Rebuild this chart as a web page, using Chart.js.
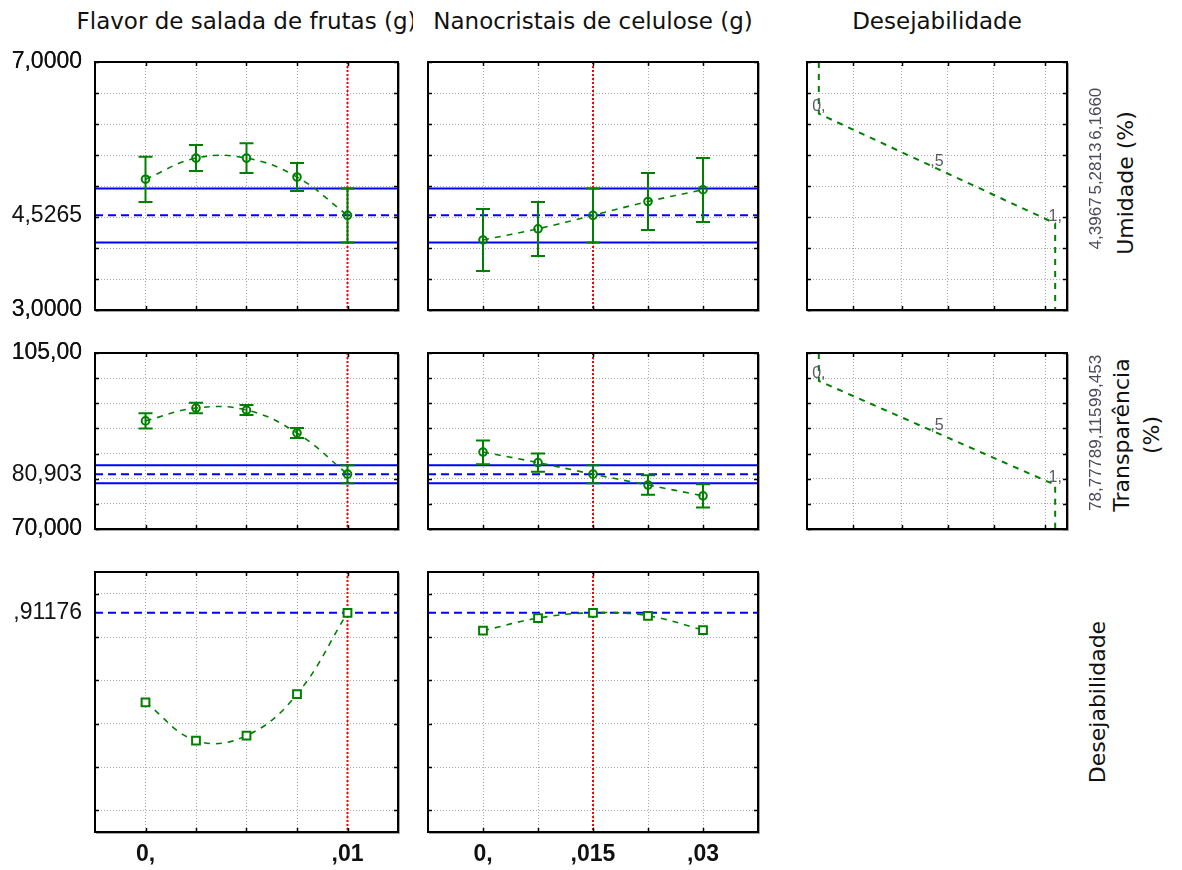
<!DOCTYPE html>
<html><head><meta charset="utf-8">
<script src="https://cdn.jsdelivr.net/npm/chart.js@4.4.1/dist/chart.umd.min.js"></script>
<style>
html,body{margin:0;padding:0;background:#fff;}
#wrap{position:relative;width:1182px;height:870px;overflow:hidden;background:#fff;}
canvas{position:absolute;}
.lbl{position:absolute;font-family:"DejaVu Sans",sans-serif;color:#111;white-space:nowrap;}
.rot{transform:translate(-50%,-50%) rotate(-90deg);text-align:center;line-height:30px;font-size:22px;}
</style></head><body><div id="wrap">
<div class="lbl" style="left:0;top:10px;width:413px;height:34px;overflow:hidden;"><div style="position:absolute;left:0;top:0;width:493px;text-align:center;font-size:23px;line-height:23px;">Flavor de salada de frutas (g)</div></div>
<div class="lbl" style="left:418px;top:10px;width:350px;text-align:center;font-size:23px;line-height:23px;">Nanocristais de celulose (g)</div>
<div class="lbl" style="left:787px;top:10px;width:300px;text-align:center;font-size:23px;line-height:23px;">Desejabilidade</div>
<div class="lbl rot" style="left:1126px;top:183px;">Umidade (%)</div>
<div class="lbl rot" style="left:1137px;top:435px;">Transparência<br>(%)</div>
<div class="lbl rot" style="left:1098px;top:702px;">Desejabilidade</div>
</div>
<script>
// ---------- data ----------
const flavorX = [0, 0.0025, 0.005, 0.0075, 0.01];
const nanoX = [0, 0.0075, 0.015, 0.0225, 0.03];
const flavorNow = 0.01;
const nanoNow = 0.015;
const flavorTickVals = [0, 0.01];
const flavorTickText = ['0,', ',01'];
const nanoTickVals = [0, 0.015, 0.03];
const nanoTickText = ['0,', ',015', ',03'];

// Umidade (%)
const umidFlavor   = [5.11, 5.45, 5.45, 5.145, 4.5265];
const umidFlavorLo = [4.74, 5.24, 5.21, 4.92, 4.09];
const umidFlavorHi = [5.47, 5.66, 5.69, 5.37, 4.96];
const umidNano     = [4.13, 4.31, 4.5265, 4.75, 4.94];
const umidNanoLo   = [3.63, 3.87, 4.09, 4.29, 4.42];
const umidNanoHi   = [4.63, 4.74, 4.96, 5.21, 5.45];
const umidPred = 4.5265;
const umidBand = [4.09, 4.96];
const umidTickVals = [3, 4.5265, 7];
const umidTickText = ['3,0000', '4,5265', '7,0000'];
const umidGrid = [3, 3.5, 4, 4.5, 5, 5.5, 6, 6.5, 7];
const umidDesD = [0, 0, 0.5, 1, 1];
const umidDesY = [7, 6.166, 5.2813, 4.39675, 3];
const umidSideVals = [4.39675, 5.2813, 6.166];
const umidSideText = ['4,3967', '5,2813', '6,1660'];

// Transparência (%)
const transFlavor   = [91.5, 94.05, 93.66, 89.1, 80.903];
const transFlavorLo = [90.0, 93.0, 92.66, 88.1, 79.1];
const transFlavorHi = [93.0, 95.1, 94.66, 90.1, 82.7];
const transNano     = [85.3, 83.2, 80.903, 78.75, 76.6];
const transNanoLo   = [82.9, 81.4, 79.1, 76.8, 74.3];
const transNanoHi   = [87.6, 85.0, 82.7, 80.7, 78.9];
const transPred = 80.903;
const transBand = [79.1, 82.7];
const transTickVals = [70, 80.903, 105];
const transTickText = ['70,000', '80,903', '105,00'];
const transGrid = [70, 75, 80, 85, 90, 95, 100, 105];
const transDesD = [0, 0, 0.5, 1, 1];
const transDesY = [105, 99.453, 89.115, 78.777, 70];
const transSideVals = [78.777, 89.115, 99.453];
const transSideText = ['78,777', '89,115', '99,453'];

// Desejabilidade
const desFlavor = [0.498, 0.322, 0.345, 0.536, 0.91176];
const desNano   = [0.829, 0.887, 0.91176, 0.898, 0.832];
const desPred = 0.91176;
const desTickVals = [0.91176];
const desTickText = [',91176'];
const desGrid = [0, 0.2, 0.4, 0.6, 0.8, 1.0];

// desirability-function panels
const dGrid = [0.145, 0.35, 0.546, 0.741, 0.957];
const dMarkVals = [0, 0.5, 1];
const dMarkText = ['0,', ',5', '1,'];

// ---------- style / layout ----------
const GREEN = '#008000', BLUE = '#0000ff', RED = '#ff0000', GRIDC = '#a8a8a8';
const NUMF = '"Liberation Sans", Arial, sans-serif';
const COLS = [
  {left:0, plotL:95, plotR:398, canvasR:412},
  {left:415, plotL:428, plotR:758, canvasR:770},
  {left:795, plotL:807, plotR:1067, canvasR:1112}
];
const ROWS = [
  {top:30, plotT:62, plotB:310, canvasB:326},
  {top:323, plotT:353, plotB:529, canvasB:545},
  {top:545, plotT:572, plotB:832, canvasB:870}
];
const wrap = document.getElementById('wrap');

function decorPlugin(spec) {
  return {
    id: 'decor',
    beforeDatasetsDraw(chart) {
      const {ctx, chartArea: a, scales: {x, y}} = chart;
      ctx.save();
      ctx.beginPath(); ctx.rect(a.left, a.top, a.width, a.height); ctx.clip();
      if (spec.band) {
        ctx.strokeStyle = BLUE; ctx.lineWidth = 2; ctx.setLineDash([]);
        spec.band.forEach(v => { const py = y.getPixelForValue(v); ctx.beginPath(); ctx.moveTo(a.left, py); ctx.lineTo(a.right, py); ctx.stroke(); });
      }
      if (spec.pred != null) {
        ctx.strokeStyle = BLUE; ctx.lineWidth = 2; ctx.setLineDash([8, 5]);
        const py = y.getPixelForValue(spec.pred);
        ctx.beginPath(); ctx.moveTo(a.left, py); ctx.lineTo(a.right, py); ctx.stroke();
      }
      if (spec.now != null) {
        ctx.strokeStyle = RED; ctx.lineWidth = 2; ctx.setLineDash([2, 2]);
        const px = x.getPixelForValue(spec.now);
        ctx.beginPath(); ctx.moveTo(px, a.top); ctx.lineTo(px, a.bottom); ctx.stroke();
      }
      if (spec.lo) {
        ctx.strokeStyle = GREEN; ctx.lineWidth = 2; ctx.setLineDash([]);
        spec.xs.forEach((xv, i) => {
          const px = x.getPixelForValue(xv), pl = y.getPixelForValue(spec.lo[i]), ph = y.getPixelForValue(spec.hi[i]);
          ctx.beginPath();
          ctx.moveTo(px, pl); ctx.lineTo(px, ph);
          ctx.moveTo(px - 7, pl); ctx.lineTo(px + 7, pl);
          ctx.moveTo(px - 7, ph); ctx.lineTo(px + 7, ph);
          ctx.stroke();
        });
      }
      ctx.restore();
    },
    afterDraw(chart) {
      const {ctx, chartArea: a, scales: {x, y}} = chart;
      ctx.save();
      ctx.setLineDash([]);
      // tick marks
      ctx.strokeStyle = '#000'; ctx.lineWidth = 1.5;
      spec.yGrid.forEach(v => {
        const py = Math.round(y.getPixelForValue(v)) + 0.5;
        ctx.beginPath(); ctx.moveTo(a.left, py); ctx.lineTo(a.left + 4, py);
        ctx.moveTo(a.right - 4, py); ctx.lineTo(a.right, py); ctx.stroke();
      });
      spec.xGrid.forEach(v => {
        const px = Math.round(x.getPixelForValue(v)) + 0.5;
        ctx.beginPath(); ctx.moveTo(px, a.top); ctx.lineTo(px, a.top + 4);
        ctx.moveTo(px, a.bottom - 4); ctx.lineTo(px, a.bottom); ctx.stroke();
      });
      // frame
      ctx.strokeStyle = '#000'; ctx.lineWidth = 2;
      ctx.strokeRect(a.left, a.top, a.width, a.height);
      ctx.strokeStyle = 'rgba(0,0,0,0.35)'; ctx.lineWidth = 1;
      ctx.beginPath(); ctx.moveTo(a.right + 1.5, a.top + 1); ctx.lineTo(a.right + 1.5, a.bottom + 1.5); ctx.lineTo(a.left + 1, a.bottom + 1.5); ctx.stroke();
      // desirability markers text
      if (spec.dMarks) {
        ctx.fillStyle = '#5a5a66'; ctx.font = '16px ' + NUMF; ctx.textAlign = 'center'; ctx.textBaseline = 'bottom';
        spec.dMarks.vals.forEach((d, i) => {
          ctx.fillText(dMarkText[i], x.getPixelForValue(d), y.getPixelForValue(spec.dMarks.ys[i]) + 1);
        });
      }
      if (spec.side) {
        ctx.fillStyle = '#4a4a5a'; ctx.font = '17px ' + NUMF; ctx.textAlign = 'center'; ctx.textBaseline = 'middle';
        spec.side.vals.forEach((v, i) => {
          ctx.save();
          ctx.translate(a.right + 29, y.getPixelForValue(v));
          ctx.rotate(-Math.PI / 2);
          ctx.fillText(spec.side.text[i], 0, 0);
          ctx.restore();
        });
      }
      ctx.restore();
    }
  };
}

function panel(col, row, spec) {
  const c = COLS[col], r = ROWS[row];
  const cv = document.createElement('canvas');
  const w = c.canvasR - c.left, h = r.canvasB - r.top;
  cv.width = w; cv.height = h;
  cv.style.left = c.left + 'px'; cv.style.top = r.top + 'px';
  cv.style.width = w + 'px'; cv.style.height = h + 'px';
  wrap.appendChild(cv);
  const W = c.plotL - c.left, R = c.canvasR - c.plotR, T = r.plotT - r.top;
  const xH = row === 2 ? r.canvasB - r.plotB : 0;
  const B = row === 2 ? 0 : r.canvasB - r.plotB;
  const yTicks = spec.yGrid.concat(col === 0 ? spec.yLabVals : []).sort((a, b) => a - b);
  const showX = row === 2 && spec.xLabVals;
  new Chart(cv, {
    type: 'line',
    data: { datasets: spec.datasets },
    options: {
      responsive: false, animation: false, devicePixelRatio: 1,
      layout: { padding: { left: 0, right: R, top: T, bottom: B } },
      plugins: { legend: { display: false }, tooltip: { enabled: false } },
      scales: {
        x: {
          type: 'linear', min: spec.xMin, max: spec.xMax,
          afterBuildTicks: s => { s.ticks = spec.xGrid.map(v => ({ value: v })); },
          afterFit: s => { s.height = xH; s.paddingLeft = 0; s.paddingRight = 0; s.paddingTop = 0; s.paddingBottom = 0; },
          grid: { color: GRIDC, lineWidth: 1, drawTicks: false },
          border: { display: false, dash: [1, 2] },
          ticks: {
            display: !!showX, padding: 9, autoSkip: false, maxRotation: 0, minRotation: 0,
            font: { family: NUMF, size: 23, weight: 'bold' }, color: '#111',
            callback: v => { if (!spec.xLabVals) return ''; const i = spec.xLabVals.indexOf(v); return i >= 0 ? spec.xLabText[i] : ''; }
          }
        },
        y: {
          type: 'linear', min: spec.yMin, max: spec.yMax,
          afterBuildTicks: s => { s.ticks = yTicks.map(v => ({ value: v })); },
          afterFit: s => { s.width = W; s.paddingTop = 0; s.paddingBottom = 0; s.paddingLeft = 0; s.paddingRight = 0; },
          grid: { color: ctx => (ctx.tick && spec.yGrid.indexOf(ctx.tick.value) < 0) ? 'rgba(0,0,0,0)' : GRIDC, lineWidth: 1, drawTicks: false },
          border: { display: false, dash: [1, 2] },
          ticks: {
            display: col === 0, padding: 13, autoSkip: false,
            font: { family: NUMF, size: 23 }, color: '#111',
            callback: v => { const i = spec.yLabVals.indexOf(v); return i >= 0 ? spec.yLabText[i] : ''; }
          }
        }
      }
    },
    plugins: [decorPlugin(spec)]
  });
}

function pts(xs, ys) { return xs.map((x, i) => ({ x: x, y: ys[i] })); }
function respSet(xs, ys, square) {
  return {
    data: pts(xs, ys), borderColor: GREEN, borderWidth: 1.6, borderDash: [6, 6], tension: 0.4, fill: false,
    pointStyle: square ? 'rect' : 'circle', pointRadius: square ? 5.5 : 3.8, pointBorderWidth: 2,
    pointBorderColor: GREEN, pointBackgroundColor: square ? '#fff' : 'rgba(0,0,0,0)'
  };
}
function desSet(ds, ys) {
  return { data: pts(ds, ys), borderColor: GREEN, borderWidth: 2, borderDash: [6, 6], tension: 0, fill: false, pointRadius: 0 };
}

const flavorGrid = flavorX, nanoGrid = nanoX;
const rowsSpec = [
  { yMin: 3, yMax: 7, yGrid: umidGrid, yLabVals: umidTickVals, yLabText: umidTickText, pred: umidPred, band: umidBand,
    f: [umidFlavor, umidFlavorLo, umidFlavorHi], n: [umidNano, umidNanoLo, umidNanoHi], dY: umidDesY, dD: umidDesD, sideV: umidSideVals, sideT: umidSideText },
  { yMin: 70, yMax: 105, yGrid: transGrid, yLabVals: transTickVals, yLabText: transTickText, pred: transPred, band: transBand,
    f: [transFlavor, transFlavorLo, transFlavorHi], n: [transNano, transNanoLo, transNanoHi], dY: transDesY, dD: transDesD, sideV: transSideVals, sideT: transSideText },
  { yMin: -0.1, yMax: 1.1, yGrid: desGrid, yLabVals: desTickVals, yLabText: desTickText, pred: desPred, band: null,
    f: [desFlavor, null, null], n: [desNano, null, null] }
];

rowsSpec.forEach((rs, row) => {
  const sq = row === 2;
  panel(0, row, {
    xMin: -0.0025, xMax: 0.0125, xGrid: flavorGrid, xLabVals: flavorTickVals, xLabText: flavorTickText,
    yMin: rs.yMin, yMax: rs.yMax, yGrid: rs.yGrid, yLabVals: rs.yLabVals, yLabText: rs.yLabText,
    pred: rs.pred, band: rs.band, now: flavorNow, xs: flavorX, lo: rs.f[1], hi: rs.f[2],
    datasets: [respSet(flavorX, rs.f[0], sq)]
  });
  panel(1, row, {
    xMin: -0.0075, xMax: 0.0375, xGrid: nanoGrid, xLabVals: nanoTickVals, xLabText: nanoTickText,
    yMin: rs.yMin, yMax: rs.yMax, yGrid: rs.yGrid, yLabVals: rs.yLabVals, yLabText: rs.yLabText,
    pred: rs.pred, band: rs.band, now: nanoNow, xs: nanoX, lo: rs.n[1], hi: rs.n[2],
    datasets: [respSet(nanoX, rs.n[0], sq)]
  });
  if (row < 2) {
    panel(2, row, {
      xMin: -0.05, xMax: 1.05, xGrid: dGrid, xLabVals: null, xLabText: null,
      yMin: rs.yMin, yMax: rs.yMax, yGrid: rs.yGrid, yLabVals: rs.yLabVals, yLabText: rs.yLabText,
      pred: null, band: null, now: null,
      dMarks: { vals: dMarkVals, ys: rs.dY.slice(1, 4) },
      side: { vals: rs.sideV, text: rs.sideT },
      datasets: [desSet(rs.dD, rs.dY)]
    });
  }
});
</script></body></html>
